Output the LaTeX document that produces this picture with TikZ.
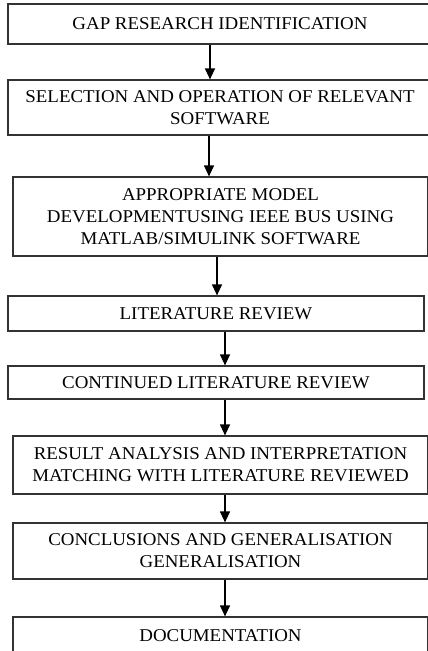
\documentclass[tikz,border=0pt]{standalone}
\usepackage{fontspec}
\setmainfont{Liberation Serif}[FakeStretch=1.05]
\usetikzlibrary{arrows.meta}
\begin{document}
\begin{tikzpicture}[x=1pt,y=-1pt,
  box/.style={draw=black!80, line width=1.2pt, inner sep=0pt, align=center,
    font=\fontsize{18}{22}\selectfont, text=black},
  arr/.style={draw=black, line width=1.2pt, -{Triangle[width=10pt,length=11pt]}}]
\useasboundingbox (0,0) rectangle (428,651);
\node[box, minimum width=424pt, minimum height=40pt] (b1) at (220,24) {GAP RESEARCH IDENTIFICATION};
\node[box, minimum width=424pt, minimum height=55pt] (b2) at (220,107.5) {SELECTION AND OPERATION OF RELEVANT\\SOFTWARE};
\node[box, minimum width=415pt, minimum height=79pt] (b3) at (220.5,216.5) {APPROPRIATE MODEL\\DEVELOPMENTUSING IEEE BUS USING\\MATLAB/SIMULINK SOFTWARE};
\node[box, minimum width=416pt, minimum height=35pt] (b4) at (216,313.5) {LITERATURE REVIEW};
\node[box, minimum width=416pt, minimum height=33pt] (b5) at (216,382.5) {CONTINUED LITERATURE REVIEW};
\node[box, minimum width=415pt, minimum height=58pt] (b6) at (220.5,465) {RESULT ANALYSIS AND INTERPRETATION\\MATCHING WITH LITERATURE REVIEWED};
\node[box, minimum width=415pt, minimum height=56pt] (b7) at (220.5,551) {CONCLUSIONS AND GENERALISATION\\GENERALISATION};
\node[box, minimum width=415pt, minimum height=38pt] (b8) at (220.5,636) {DOCUMENTATION};
\coordinate (xa) at (210,0);
\coordinate (xb) at (209,0);
\coordinate (xc) at (217,0);
\coordinate (xd) at (225,0);
\draw[arr] (b1.south -| xa) -- (b2.north -| xa);
\draw[arr] (b2.south -| xb) -- (b3.north -| xb);
\draw[arr] (b3.south -| xc) -- (b4.north -| xc);
\draw[arr] (b4.south -| xd) -- (b5.north -| xd);
\draw[arr] (b5.south -| xd) -- (b6.north -| xd);
\draw[arr] (b6.south -| xd) -- (b7.north -| xd);
\draw[arr] (b7.south -| xd) -- (b8.north -| xd);
\end{tikzpicture}
\end{document}
